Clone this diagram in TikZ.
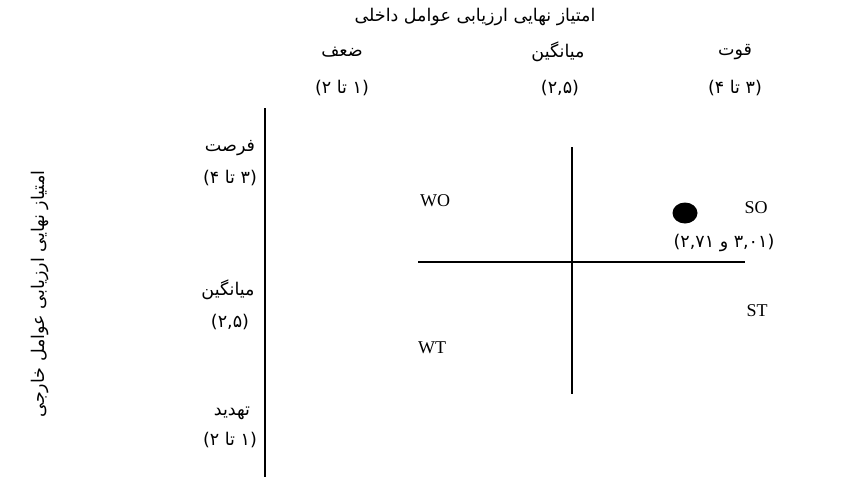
\documentclass[tikz,border=0pt]{standalone}
\usepackage{fontspec}
\setmainfont{Liberation Serif}
\newfontfamily\fa[Script=Arabic]{DejaVu Sans}
\TeXXeTstate=1
\begin{document}
\begin{tikzpicture}[x=1pt,y=-1pt,
  fa/.style={font=\fa\fontsize{17.5}{20}\selectfont, inner sep=0pt},
  lat/.style={font=\fontsize{18}{20}\selectfont, inner sep=0pt},
  axis/.style={line width=2pt}]
\useasboundingbox (0,0) rectangle (862,477);
% top
\node[fa] (title) at (475,17) {\beginR امتیاز نهایی ارزیابی عوامل داخلی\endR};
\node[fa] (c1) at (342,52) {\beginR ضعف\endR};
\node[fa] (c2) at (558,52) {\beginR میانگین\endR};
\node[fa] (c3) at (735,52) {\beginR قوت\endR};
\node[fa] (n1) at (342,88) {\beginR (۱ تا ۲)\endR};
\node[fa] (n2) at (560,88) {\beginR (۲,۵)\endR};
\node[fa] (n3) at (735,88) {\beginR (۳ تا ۴)\endR};
% left
\node[fa] (r1) at (230,148) {\beginR فرصت\endR};
\node[fa] (r2) at (228,290) {\beginR میانگین\endR};
\node[fa] (r3) at (232,413) {\beginR تهدید\endR};
\node[fa] (m1) at (230,178) {\beginR (۳ تا ۴)\endR};
\node[fa] (m2) at (230,322) {\beginR (۲,۵)\endR};
\node[fa] (m3) at (230,440) {\beginR (۱ تا ۲)\endR};
\node[fa, rotate=90] (side) at (40,294) {\beginR امتیاز نهایی ارزیابی عوامل خارجی\endR};
% axes
\coordinate (la) at (265,108);
\coordinate (lb) at (265,477);
\draw[axis] (la) -- (lb);
\coordinate (hl) at (418,262);
\coordinate (hr) at (745,262);
\coordinate (vt) at (572,147);
\coordinate (vb) at (572,394);
\draw[axis] (hl) -- (hr);
\draw[axis] (vt) -- (vb);
% quadrants
\node[lat] (wo) at (435,201) {WO};
\node[lat] (so) at (756,208) {SO};
\node[lat] (st) at (757,311) {ST};
\node[lat] (wt) at (432,348) {WT};
\fill (685,213) ellipse [x radius=12.5, y radius=10.5];
\node[fa] (pt) at (724,243) {\beginR (۳,۰۱ و ۲,۷۱)\endR};
\end{tikzpicture}
\end{document}
